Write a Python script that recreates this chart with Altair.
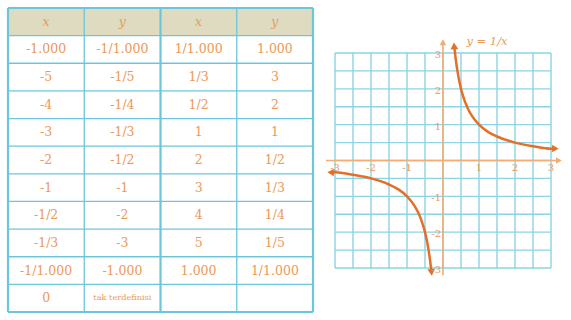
import altair as alt
import pandas as pd

# ---- table contents ----
header = ["x", "y", "x", "y"]
col_x_neg = ["-1.000", "-5", "-4", "-3", "-2", "-1", "-1/2", "-1/3", "-1/1.000", "0"]
col_y_neg = ["-1/1.000", "-1/5", "-1/4", "-1/3", "-1/2", "-1", "-2", "-3", "-1.000", "tak terdefinisi"]
col_x_pos = ["1/1.000", "1/3", "1/2", "1", "2", "3", "4", "5", "1.000", ""]
col_y_pos = ["1.000", "3", "2", "1", "1/2", "1/3", "1/4", "1/5", "1/1.000", ""]

# ---- graph of y = 1/x ----
right_x = [0.32, 0.35, 0.4, 0.5, 0.6, 0.7, 0.8, 1.0, 1.25, 1.5, 2.0, 2.5, 3.0, 3.05]
right_y = [3.12, 2.86, 2.5, 2.0, 1.67, 1.43, 1.25, 1.0, 0.8, 0.67, 0.5, 0.4, 0.33, 0.33]
left_x = [-3.05, -3.0, -2.5, -2.0, -1.5, -1.25, -1.0, -0.8, -0.7, -0.6, -0.5, -0.4, -0.35, -0.33]
left_y = [-0.33, -0.33, -0.4, -0.5, -0.67, -0.8, -1.0, -1.25, -1.43, -1.67, -2.0, -2.5, -2.86, -3.03]
grid_values = [-3, -2.5, -2, -1.5, -1, -0.5, 0, 0.5, 1, 1.5, 2, 2.5, 3]
tick_values = [-3, -2, -1, 1, 2, 3]
tick_labels = ["-3", "-2", "-1", "1", "2", "3"]
title_text = "y = 1/x"

ORANGE_TEXT = "#eb9a58"
ORANGE_AXIS = "#f2ad74"
ORANGE_CURVE = "#e66f28"
CYAN = "#6cc6db"
CYAN_GRID = "#8cd3e4"
HEADER_BG = "#dedbc1"
SERIF = "DejaVu Serif"

# table occupies columns 0..4 and rows 0..11 (row 0 is the header)
TX = alt.Scale(domain=[0, 4], range=[8, 313], nice=False, zero=False)
TY = alt.Scale(domain=[0, 11], range=[8, 312], nice=False, zero=False)
# graph coordinates
GX = alt.Scale(domain=[-3, 3], range=[335, 551], nice=False, zero=False)
GY = alt.Scale(domain=[-3, 3], range=[268, 53], nice=False, zero=False)


def q(field, scale):
    return alt.X(field, type="quantitative", scale=scale, axis=None)


def qy(field, scale):
    return alt.Y(field, type="quantitative", scale=scale, axis=None)


# header background
header_bg = alt.Chart(pd.DataFrame({"x1": [0], "x2": [4], "y1": [0], "y2": [1]})).mark_rect(
    color=HEADER_BG
).encode(
    x=q("x1", TX), x2="x2", y=qy("y1", TY), y2="y2"
)

# table lines
lines = []
for r in range(12):
    lines.append({"x1": 0, "x2": 4, "y1": r, "y2": r, "w": 2.0 if r in (0, 11) else 1.3})
for c in range(5):
    lines.append({"x1": c, "x2": c, "y1": 0, "y2": 11, "w": 2.2 if c in (0, 2, 4) else 1.3})
table_lines = alt.Chart(pd.DataFrame(lines)).mark_rule(color=CYAN).encode(
    x=q("x1", TX), x2="x2", y=qy("y1", TY), y2="y2",
    strokeWidth=alt.StrokeWidth("w:Q", scale=None),
)

# table text
head_df = pd.DataFrame({"cx": [c + 0.5 for c in range(4)], "cy": [0.5] * 4, "t": header})
head_text = alt.Chart(head_df).mark_text(
    font=SERIF, fontSize=12.5, fontStyle="italic", color=ORANGE_TEXT
).encode(x=q("cx", TX), y=qy("cy", TY), text="t:N")

cells = []
for c, col in enumerate([col_x_neg, col_y_neg, col_x_pos, col_y_pos]):
    for r, val in enumerate(col):
        if val:
            cells.append({"cx": c + 0.5, "cy": r + 1.5, "t": val, "small": len(val) > 10})
cell_df = pd.DataFrame(cells)
body_text = alt.Chart(cell_df[~cell_df["small"]]).mark_text(
    font=SERIF, fontSize=12.5, color=ORANGE_TEXT
).encode(x=q("cx", TX), y=qy("cy", TY), text="t:N")
small_text = alt.Chart(cell_df[cell_df["small"]]).mark_text(
    font=SERIF, fontSize=8.2, color=ORANGE_TEXT
).encode(x=q("cx", TX), y=qy("cy", TY), text="t:N")

# graph grid
grid = []
for g in grid_values:
    grid.append({"x1": g, "x2": g, "y1": -3, "y2": 3})
    grid.append({"x1": -3, "x2": 3, "y1": g, "y2": g})
grid_layer = alt.Chart(pd.DataFrame(grid)).mark_rule(color=CYAN_GRID, strokeWidth=1.4).encode(
    x=q("x1", GX), x2="x2", y=qy("y1", GY), y2="y2"
)

# coordinate axes
axes_df = pd.DataFrame({"x1": [-3.25, 0], "x2": [3.2, 0], "y1": [0, -3.2], "y2": [0, 3.28]})
axes_layer = alt.Chart(axes_df).mark_rule(color=ORANGE_AXIS, strokeWidth=1.6).encode(
    x=q("x1", GX), x2="x2", y=qy("y1", GY), y2="y2"
)
axis_heads = alt.Chart(pd.DataFrame({
    "x": [3.22, 0], "y": [0, 3.3], "shape": ["triangle-right", "triangle-up"]
})).mark_point(filled=True, color=ORANGE_AXIS, opacity=1, size=45).encode(
    x=q("x", GX), y=qy("y", GY), shape=alt.Shape("shape:N", scale=None)
)

# curve branches
curve_df = pd.DataFrame({
    "x": right_x + left_x,
    "y": right_y + left_y,
    "branch": ["right"] * len(right_x) + ["left"] * len(left_x),
    "i": list(range(len(right_x))) + list(range(len(left_x))),
})
curve_layer = alt.Chart(curve_df).mark_line(
    color=ORANGE_CURVE, strokeWidth=2.5, interpolate="monotone"
).encode(
    x=q("x", GX), y=qy("y", GY), detail="branch:N", order="i:Q"
)
curve_heads = alt.Chart(pd.DataFrame({
    "x": [0.31, 3.12, -3.12, -0.32],
    "y": [3.2, 0.33, -0.33, -3.12],
    "shape": ["triangle-up", "triangle-right", "triangle-left", "triangle-down"],
    "a": [356, 3, 3, 356],
})).mark_point(filled=True, color=ORANGE_CURVE, opacity=1, size=60).encode(
    x=q("x", GX), y=qy("y", GY),
    shape=alt.Shape("shape:N", scale=None),
    angle=alt.Angle("a:Q", scale=None),
)

# tick labels
xt = alt.Chart(pd.DataFrame({"v": tick_values, "t": tick_labels, "z": [0] * 6})).mark_text(
    font=SERIF, fontSize=10, color=ORANGE_TEXT, dy=7
).encode(x=q("v", GX), y=qy("z", GY), text="t:N")
yt = alt.Chart(pd.DataFrame({"v": tick_values, "t": tick_labels, "z": [0] * 6})).mark_text(
    font=SERIF, fontSize=10, color=ORANGE_TEXT, align="right", dx=-2, dy=2
).encode(x=q("z", GX), y=qy("v", GY), text="t:N")

title = alt.Chart(pd.DataFrame({"x": [0.65], "y": [3.3], "t": [title_text]})).mark_text(
    font=SERIF, fontSize=11.5, fontStyle="italic", color=ORANGE_TEXT, align="left"
).encode(x=q("x", GX), y=qy("y", GY), text="t:N")

chart = alt.layer(
    header_bg, table_lines, head_text, body_text, small_text,
    grid_layer, axes_layer, axis_heads, curve_layer, curve_heads, xt, yt, title,
).resolve_scale(
    x="independent", y="independent"
).properties(
    width=571, height=320, autosize=alt.AutoSizeParams(type="none"), padding=0,
    background="white",
).configure_view(stroke=None)

chart.save("out.html", embed_options={"renderer": "svg", "actions": False})
